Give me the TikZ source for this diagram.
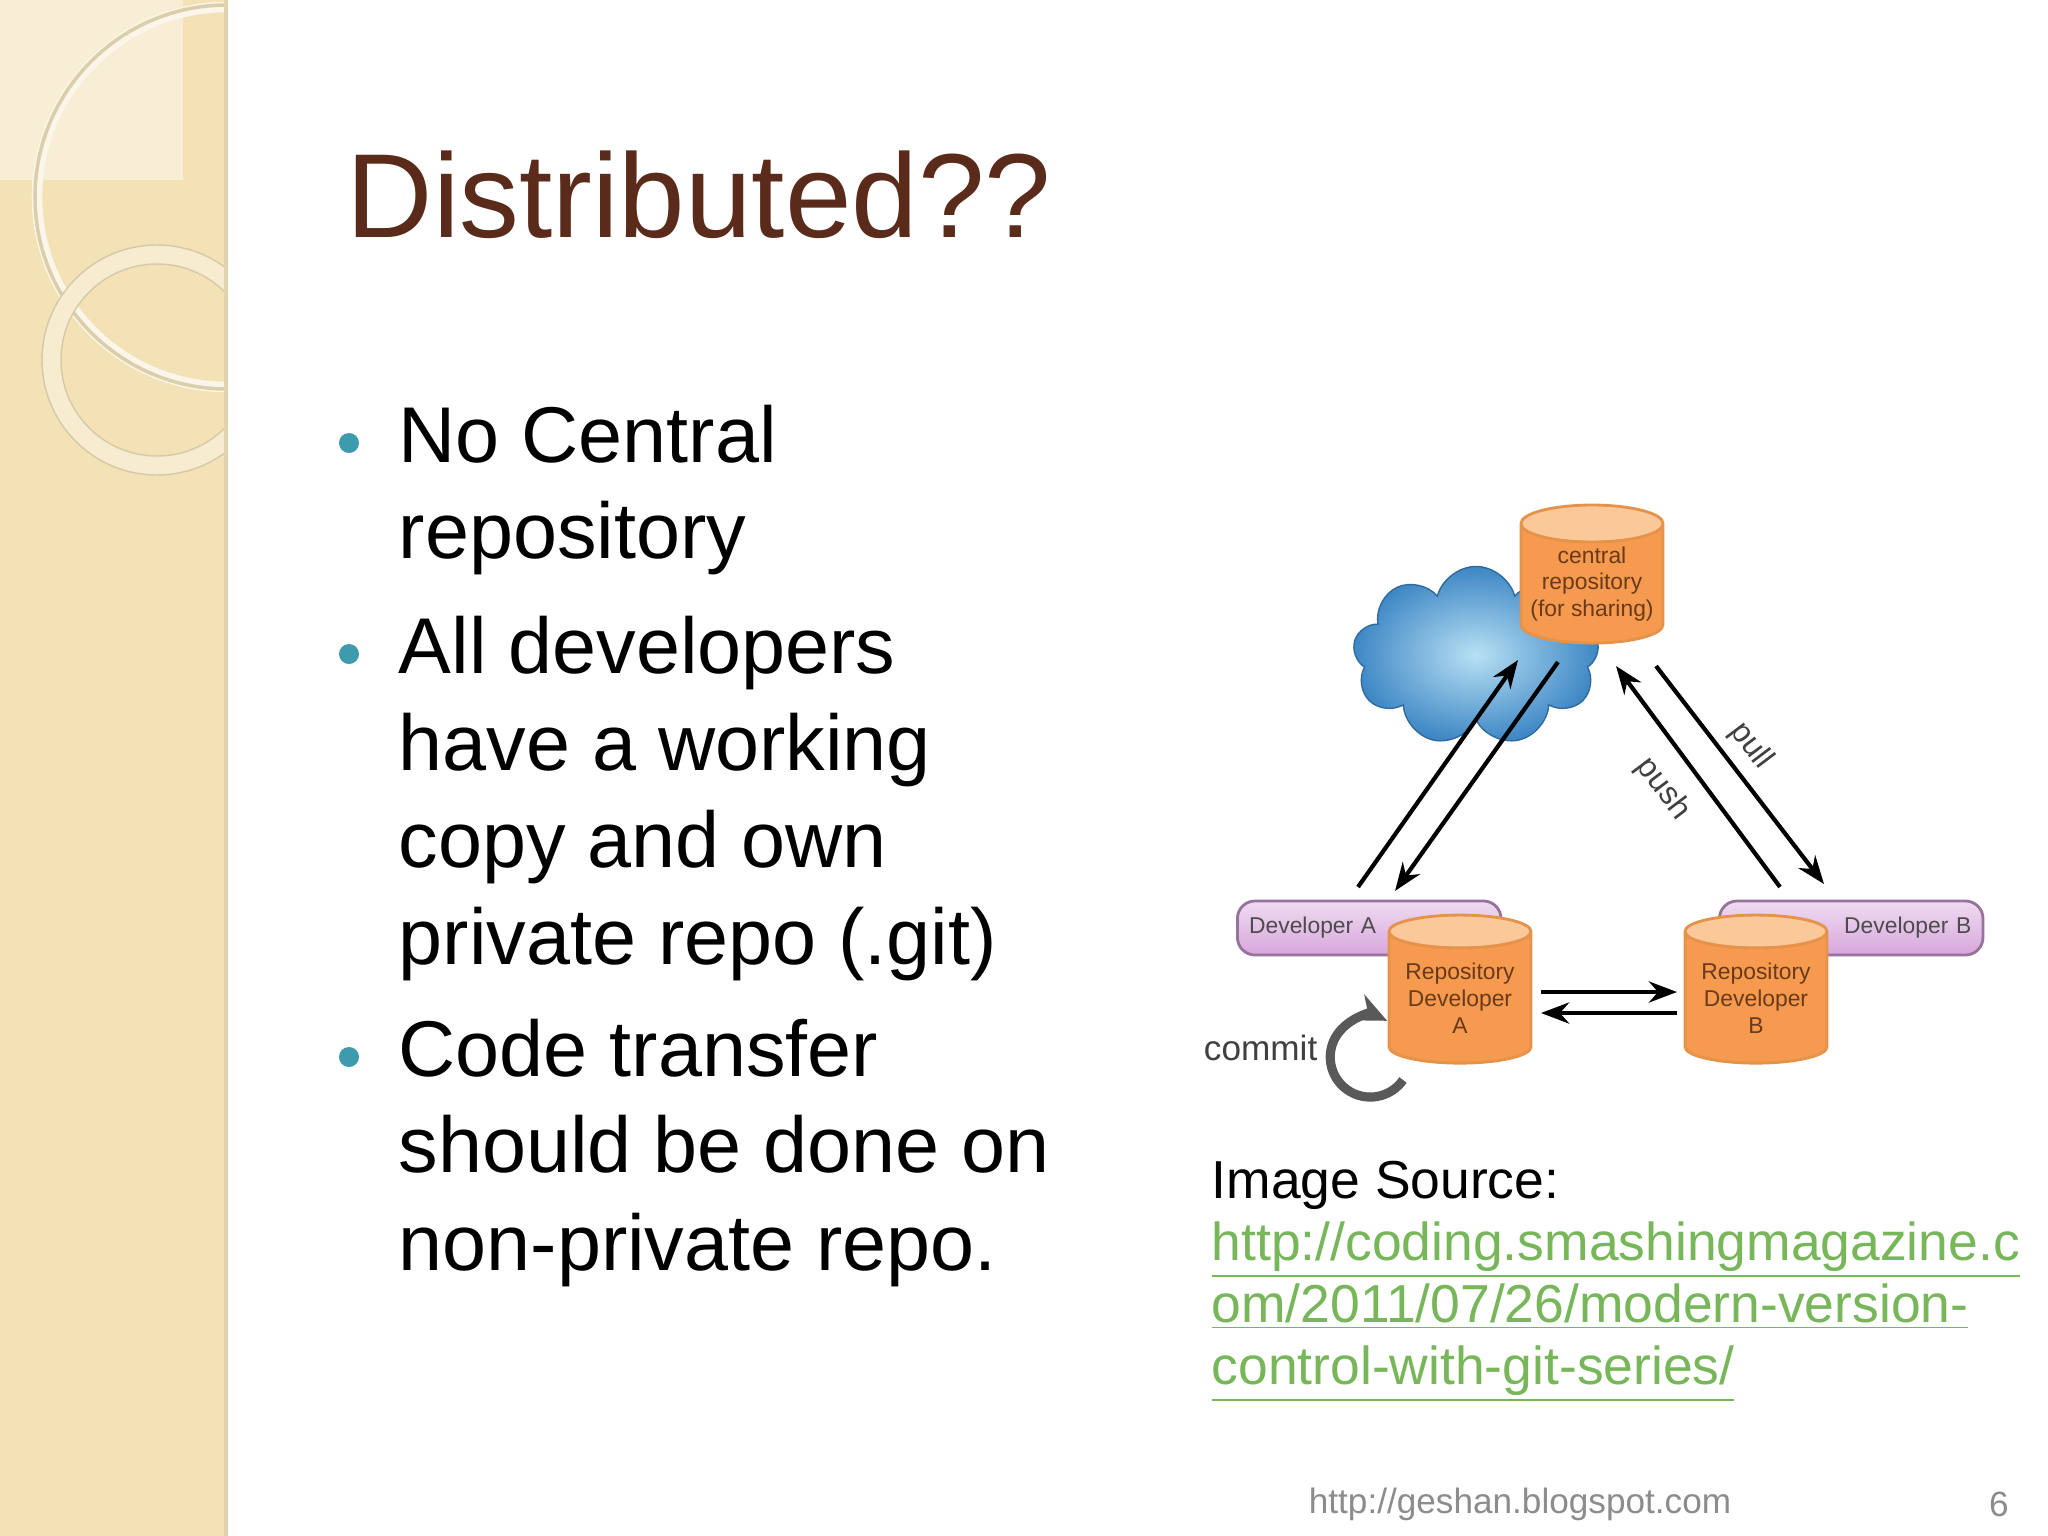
\documentclass[tikz,border=0pt]{standalone}
\usepackage{fontspec}
\setmainfont{Liberation Sans}
\usetikzlibrary{shapes.geometric,shapes.symbols,arrows.meta}
\definecolor{strip}{HTML}{F2E2B6}
\definecolor{stripl}{HTML}{F8EED6}
\definecolor{titlec}{HTML}{5A2A1A}
\definecolor{bul}{HTML}{3E9BAE}
\definecolor{linkc}{HTML}{78B65A}
\definecolor{orng}{HTML}{F59A4E}
\definecolor{orngl}{HTML}{FBC89A}
\definecolor{cyltxt}{HTML}{6A3A1A}
\definecolor{purp}{HTML}{D7A6DC}
\definecolor{footc}{HTML}{8C8C8C}
\definecolor{cloudl}{HTML}{B8E0F4}
\definecolor{cloudd}{HTML}{3C86C4}
\tikzset{
  cyl/.style={cylinder, shape border rotate=90, aspect=0.3, draw=orng!70!brown, thick,
    cylinder uses custom fill, cylinder body fill=orng, cylinder end fill=orngl,
    text=cyltxt, align=center, font=\fontsize{6.5}{7.6}\selectfont, inner sep=0pt},
  devbar/.style={rounded corners=5pt, draw=purp!70!black, thick, top color=purp!40, bottom color=purp,
    minimum height=0.54cm, font=\fontsize{6.5}{7.5}\selectfont, text=black!70},
  arr/.style={-{Stealth[length=8pt,width=6pt]}, line width=1.2pt},
  bullettext/.style={anchor=base west, inner sep=0pt, font=\fontsize{22.5}{27}\selectfont},
  bdot/.style={circle, fill=bul, inner sep=0pt, minimum size=0.2cm},
  link/.style={anchor=base west, inner sep=0pt, text=linkc, font=\fontsize{15.2}{18}\selectfont},
  lbl/.style={font=\fontsize{9}{10}\selectfont, text=black!75},
}
\begin{document}
\begin{tikzpicture}[x=0.01cm,y=-0.01cm]
\useasboundingbox (0,0) rectangle (2048,1536);
\fill[white] (0,0) rectangle (2048,1536);
% left strip
\fill[strip] (0,0) rectangle (228,1536);
\begin{scope}
\clip (0,0) rectangle (228,1536);
\fill[stripl] (0,0) rectangle (183,180);
\draw[white!70!strip, line width=3pt] (227,197) circle (190);
\draw[strip!80!gray, line width=1pt] (227,197) circle (192);
\fill[stripl!80!strip, even odd rule] (157,360) circle (115) (157,360) circle (96);
\draw[strip!75!gray] (157,360) circle (115) (157,360) circle (96);
\end{scope}
\fill[strip!85!gray] (224,0) rectangle (228,1536);
% title
\node[anchor=base west, inner sep=0pt, text=titlec, font=\fontsize{34}{40}\selectfont] (title) at (346,237) {Distributed??};
% bullets
\node[bullettext] (b1) at (398,462) {No Central};
\node[bullettext] (b2) at (398,558) {repository};
\node[bullettext] (b3) at (398,673) {All developers};
\node[bullettext] (b4) at (398,770) {have a working};
\node[bullettext] (b5) at (398,867) {copy and own};
\node[bullettext] (b6) at (398,964) {private repo (.git)};
\node[bullettext] (b7) at (398,1076) {Code transfer};
\node[bullettext] (b8) at (398,1172) {should be done on};
\node[bullettext] (b9) at (398,1270) {non-private repo.};
\node[bdot] (d1) at (349,443) {};
\node[bdot] (d2) at (349,654) {};
\node[bdot] (d3) at (349,1057) {};
% diagram
\node[cloud, cloud puffs=9, aspect=1.4, minimum width=2.46cm, minimum height=1.79cm, draw=cloudd!80!black,
  inner color=cloudl, outer color=cloudd] (cloud) at (1476,656) {};
\node[cyl, minimum width=1.42cm, minimum height=1.38cm] (central) at (1592,584) {central\\repository\\(for sharing)};
\node[devbar, minimum width=2.6cm, anchor=west, text width=2.4cm, align=left] (barA) at (1236,928) {Developer A};
\node[devbar, minimum width=2.6cm, anchor=west, text width=2.4cm, align=right] (barB) at (1718,928) {Developer B};
\node[cyl, minimum width=1.42cm, minimum height=1.48cm] (repA) at (1460,998) {Repository\\Developer\\A};
\node[cyl, minimum width=1.42cm, minimum height=1.48cm] (repB) at (1756,998) {Repository\\Developer\\B};
\coordinate (aUs) at (1358,887); \coordinate (aUe) at (1518,660);
\coordinate (aDs) at (1558,662); \coordinate (aDe) at (1395,891);
\coordinate (pSs) at (1780,887); \coordinate (pSe) at (1616,666);
\coordinate (plS) at (1656,666); \coordinate (plE) at (1824,884);
\coordinate (h1s) at (1541,992); \coordinate (h1e) at (1677,992);
\coordinate (h2s) at (1677,1013); \coordinate (h2e) at (1541,1013);
\draw[arr] (aUs) -- (aUe);
\draw[arr] (aDs) -- (aDe);
\draw[arr] (pSs) -- (pSe);
\draw[arr] (plS) -- (plE);
\node[lbl, rotate=-53] (pushl) at (1663,789) {push};
\node[lbl, rotate=-53] (pulll) at (1751,746) {pull};
\draw[arr] (h1s) -- (h1e);
\draw[arr] (h2s) -- (h2e);
\node[anchor=base east, inner sep=0pt, font=\fontsize{10}{12}\selectfont, text=black!75] (commit) at (1318,1060) {commit};
\draw[-{Stealth[length=9pt,width=8pt]}, line width=2.6pt, gray!70!black] (1403,1080) arc[start angle=35, end angle=295, radius=40];
% source
\node[anchor=base west, inner sep=0pt, font=\fontsize{15.2}{18}\selectfont] (src) at (1211,1198) {Image Source:};
\node[link] (l1) at (1211,1260) {\underline{http://coding.smashingmagazine.c}};
\node[link] (l2) at (1211,1322) {\underline{om/2011/07/26/modern-version-}};
\node[link] (l3) at (1211,1384) {\underline{control-with-git-series/}};
% footer
\node[text=footc, font=\fontsize{10}{12}\selectfont] (foot) at (1520,1504) {http://geshan.blogspot.com};
\node[text=footc, font=\fontsize{10}{12}\selectfont] (pg) at (1999,1504) {6};
\end{tikzpicture}
\end{document}
